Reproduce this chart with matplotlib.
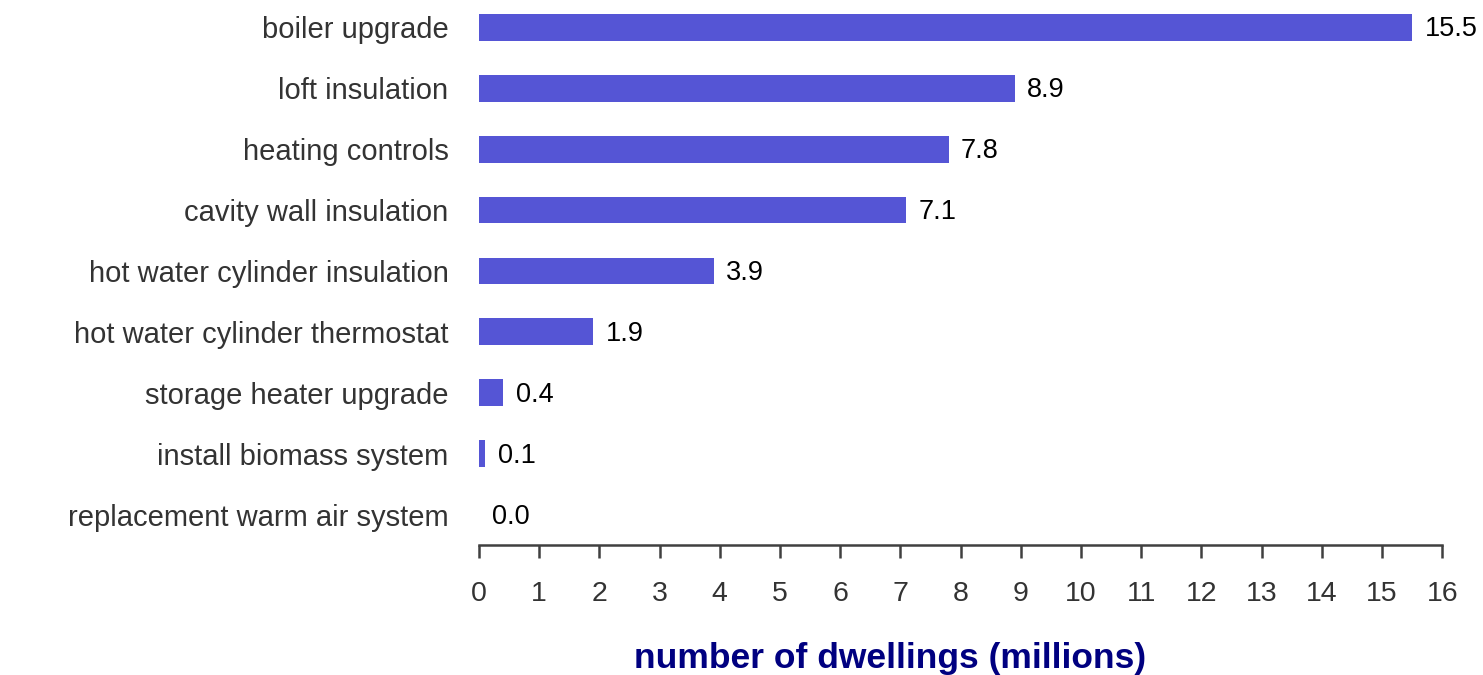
import matplotlib
matplotlib.use("Agg")
import matplotlib.pyplot as plt

plt.rcParams["font.family"] = ["Liberation Sans", "DejaVu Sans"]

measures = [
    "replacement warm air system",
    "install biomass system",
    "storage heater upgrade",
    "hot water cylinder thermostat",
    "hot water cylinder insulation",
    "cavity wall insulation",
    "heating controls",
    "loft insulation",
    "boiler upgrade",
]
dwellings = [0.0, 0.1, 0.4, 1.9, 3.9, 7.1, 7.8, 8.9, 15.5]
xticks = list(range(0, 17))

fig = plt.figure(figsize=(14.83, 6.75), dpi=100)
ax = fig.add_axes([0.323, 0.1926, 0.6495, 0.8119])

ypos = range(len(measures))
ax.barh(ypos, dwellings, height=0.44, color="#5555D5")

# value labels just right of each bar end
for y, v in zip(ypos, dwellings):
    ax.annotate(f"{v:.1f}", (v, y), xytext=(9, -1.5), textcoords="offset points",
                va="center", ha="left", fontsize=19.5, color="black")

ax.set_xlim(0, 16)
ax.set_ylim(-0.5, 8.5)
ax.set_xticks(xticks)
ax.set_yticks(list(ypos))
ax.set_yticklabels(measures, fontsize=21, color="#333333")

for side in ["top", "right", "left"]:
    ax.spines[side].set_visible(False)
ax.spines["bottom"].set_color("#404040")
ax.spines["bottom"].set_linewidth(1.8)

ax.tick_params(axis="y", length=0, pad=22)
ax.tick_params(axis="x", direction="out", length=9, width=1.8, color="#404040",
               labelsize=20.5, labelcolor="#333333", pad=17)

ax.set_xlabel("number of dwellings (millions)", fontsize=25.5, fontweight="bold",
              color="#000080", va="center")
ax.xaxis.set_label_coords(0.427, -0.207)

fig.savefig("out.png", dpi=100)
